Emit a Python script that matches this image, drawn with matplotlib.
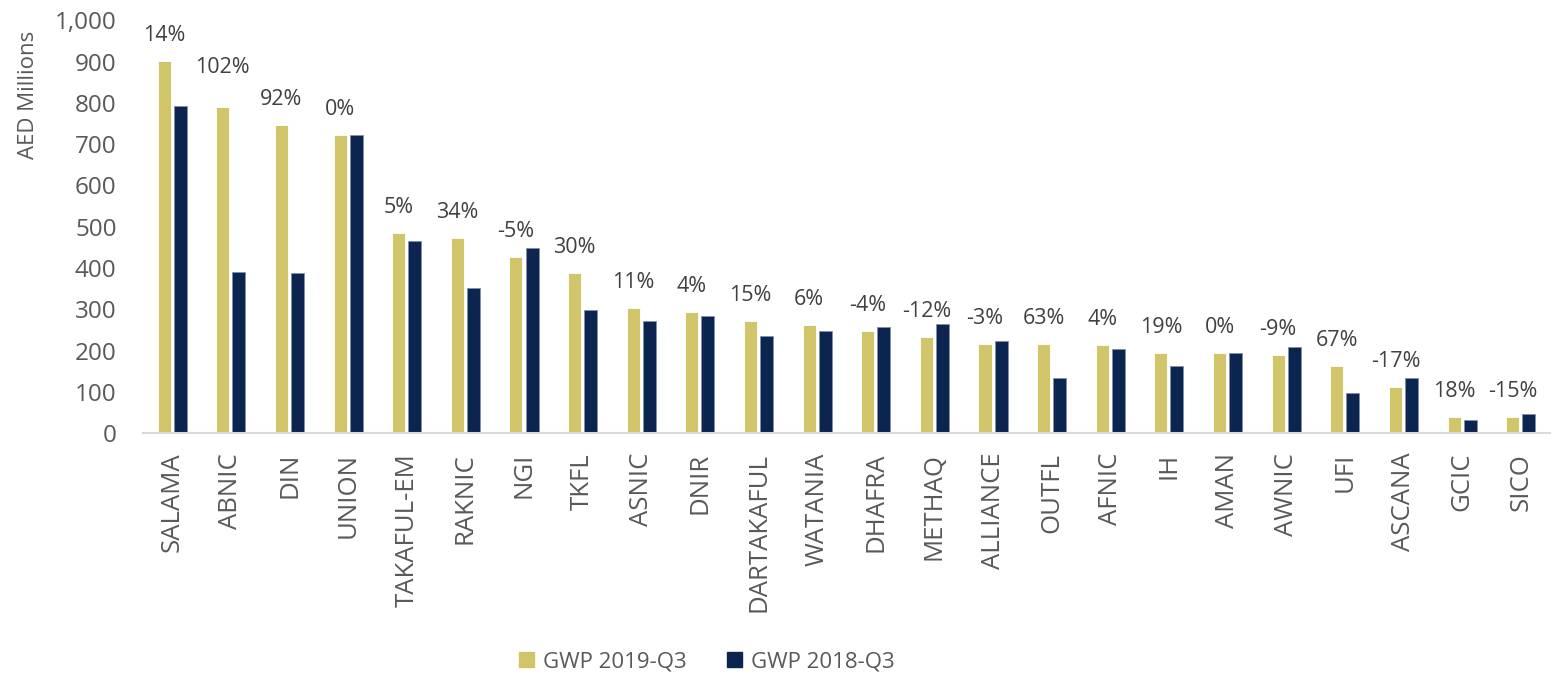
import numpy as np
import matplotlib.pyplot as plt
from matplotlib.patches import Patch

plt.rcParams['font.family'] = ['Open Sans', 'DejaVu Sans']

companies = ["SALAMA", "ABNIC", "DIN", "UNION", "TAKAFUL-EM", "RAKNIC", "NGI", "TKFL",
             "ASNIC", "DNIR", "DARTAKAFUL", "WATANIA", "DHAFRA", "METHAQ", "ALLIANCE",
             "OUTFL", "AFNIC", "IH", "AMAN", "AWNIC", "UFI", "ASCANA", "GCIC", "SICO"]
gwp_2019 = [901, 790, 746, 722, 485, 472, 427, 387, 304, 293, 271, 263, 247, 233, 217,
            216, 213, 195, 194, 189, 162, 112, 39, 39]
gwp_2018 = [793, 391, 389, 723, 465, 353, 448, 298, 273, 284, 235, 248, 257, 264, 224,
            133, 204, 164, 195, 210, 97, 134, 33, 46]
growth = ["14%", "102%", "92%", "0%", "5%", "34%", "-5%", "30%", "11%", "4%", "15%", "6%",
          "-4%", "-12%", "-3%", "63%", "4%", "19%", "0%", "-9%", "67%", "-17%", "18%", "-15%"]

gold = "#D1C56A"
navy = "#0C2550"
grey = "#595959"

fig = plt.figure(figsize=(15.57, 6.74), dpi=100)
ax = fig.add_axes([0.0918, 0.357, 0.9037, 0.613])

x = np.arange(len(companies))
w = 0.222
off = 0.137
ax.bar(x - off, gwp_2019, w, color=gold, edgecolor="white", linewidth=0.6, zorder=2)
ax.bar(x + off, gwp_2018, w, color=navy, edgecolor="#8090a8", linewidth=0.6, zorder=2)

# growth labels sit above the 2019 bar (ABNIC one was nudged up in the source)
nudge = {"ABNIC": 10}
for i, (name, v, g) in enumerate(zip(companies, gwp_2019, growth)):
    ax.annotate(g, (i - off, v), xytext=(0, 14.5 + nudge.get(name, 0)),
                textcoords="offset points", ha="center", va="baseline",
                fontsize=15.5, color="#404040")

ax.set_xlim(-0.5, len(companies) - 0.5)
ax.set_ylim(0, 1000)
ax.set_yticks(range(0, 1001, 100))
ax.set_yticklabels([f"{t:,}" for t in range(0, 1001, 100)])
ax.set_xticks(x)
ax.set_xticklabels(companies, rotation=90)
ax.tick_params(axis="y", length=0, labelsize=17.5, labelcolor=grey, pad=19)
ax.tick_params(axis="x", length=0, labelsize=18.5, labelcolor=grey, pad=14)
ax.set_ylabel("AED Millions", fontsize=16, color=grey)
ax.yaxis.set_label_coords(-0.074, 0.82)

for s in ["top", "right", "left"]:
    ax.spines[s].set_visible(False)
ax.spines["bottom"].set_color("#d9d9d9")
ax.spines["bottom"].set_linewidth(1.5)

handles = [Patch(color=gold, label="GWP 2019-Q3"), Patch(color=navy, label="GWP 2018-Q3")]
fig.legend(handles=handles, loc="center", bbox_to_anchor=(0.454, 0.018), ncol=2,
           frameon=False, fontsize=16, labelcolor=grey, handlelength=0.7,
           handleheight=0.7, handletextpad=0.4, columnspacing=1.8)

fig.savefig("out.png", dpi=100)
